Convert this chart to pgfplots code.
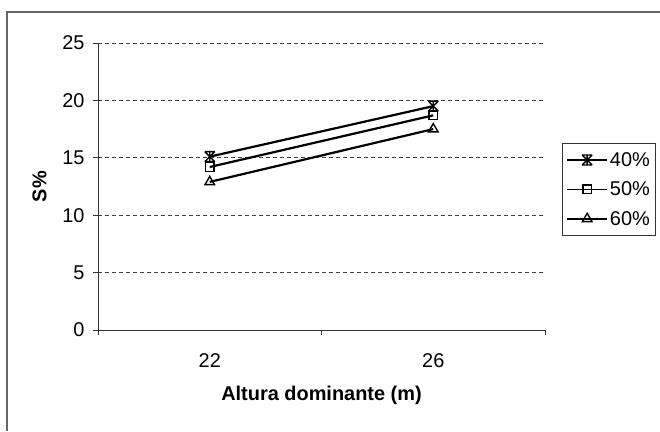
\documentclass[border=0pt]{standalone}
\usepackage{pgfplots}
\pgfplotsset{compat=1.18}
\usepackage{fontspec}
\setmainfont{Liberation Sans}

% Excel-style "star" marker: an X with a vertical stroke and short caps
\pgfdeclareplotmark{xlstar}{%
  \pgfpathmoveto{\pgfqpoint{-\pgfplotmarksize}{-\pgfplotmarksize}}%
  \pgfpathlineto{\pgfqpoint{\pgfplotmarksize}{\pgfplotmarksize}}%
  \pgfpathmoveto{\pgfqpoint{-\pgfplotmarksize}{\pgfplotmarksize}}%
  \pgfpathlineto{\pgfqpoint{\pgfplotmarksize}{-\pgfplotmarksize}}%
  \pgfpathmoveto{\pgfqpoint{0pt}{-\pgfplotmarksize}}%
  \pgfpathlineto{\pgfqpoint{0pt}{\pgfplotmarksize}}%
  \pgfpathmoveto{\pgfqpoint{-\pgfplotmarksize}{\pgfplotmarksize}}%
  \pgfpathlineto{\pgfqpoint{\pgfplotmarksize}{\pgfplotmarksize}}%
  \pgfpathmoveto{\pgfqpoint{-\pgfplotmarksize}{-\pgfplotmarksize}}%
  \pgfpathlineto{\pgfqpoint{\pgfplotmarksize}{-\pgfplotmarksize}}%
  \pgfusepathqstroke}

\begin{document}
\begin{tikzpicture}[x=1bp,y=1bp]
\useasboundingbox (0,0) rectangle (660,431);
% chart frame
\draw[black!60, line width=1.2bp] (7,0) -- (7,419) -- (660,419);
\begin{axis}[
  at={(98bp,101bp)}, anchor=south west,
  scale only axis, width=447bp, height=287bp,
  xmin=-0.5, xmax=1.5, ymin=0, ymax=25,
  axis x line*=bottom, axis y line*=left,
  axis line style={black!80, line width=0.9bp, -},
  xtick={-0.5,0.5,1.5}, xticklabels={22,26},
  x tick label as interval,
  ytick={0,5,10,15,20,25},
  tick align=outside, major tick length=5bp,
  tick style={black!80, line width=0.9bp},
  ymajorgrids,
  major grid style={black!75, dash pattern=on 4bp off 3bp, line width=0.9bp},
  tick label style={font=\fontsize{20}{23}\selectfont},
  /pgf/number format/assume math mode=true,
  xticklabel style={yshift=-15bp},
  yticklabel style={xshift=-5bp},
  xlabel={\bfseries Altura dominante (m)},
  ylabel={\bfseries S\%},
  label style={font=\fontsize{20}{23}\selectfont},
  xlabel style={yshift=-12bp},
  ylabel style={yshift=9bp},
  legend style={at={(1.038,0.652)}, anchor=north west,
    draw=black!80, line width=0.9bp,
    font=\fontsize{20}{23}\selectfont,
    row sep=10bp, inner xsep=4bp, inner ysep=7bp},
  legend cell align=left,
  legend image code/.code={%
    \draw[#1, mark=none, line width=1.5bp] (0bp,0bp) -- (40bp,0bp);
    \draw[#1] plot coordinates {(20bp,0bp)};},
  every axis plot/.append style={black, line width=2.2bp,
    mark options={solid, line width=1.4bp, fill=white}},
]
\addplot[mark=xlstar, mark size=5bp] coordinates {(0,15.1) (1,19.5)};
\addlegendentry{40\%}
\addplot[mark=square, mark size=4.3bp] coordinates {(0,14.2) (1,18.7)};
\addlegendentry{50\%}
\addplot[mark=triangle, mark size=5.5bp] coordinates {(0,12.9) (1,17.5)};
\addlegendentry{60\%}
\end{axis}
\end{tikzpicture}
\end{document}
